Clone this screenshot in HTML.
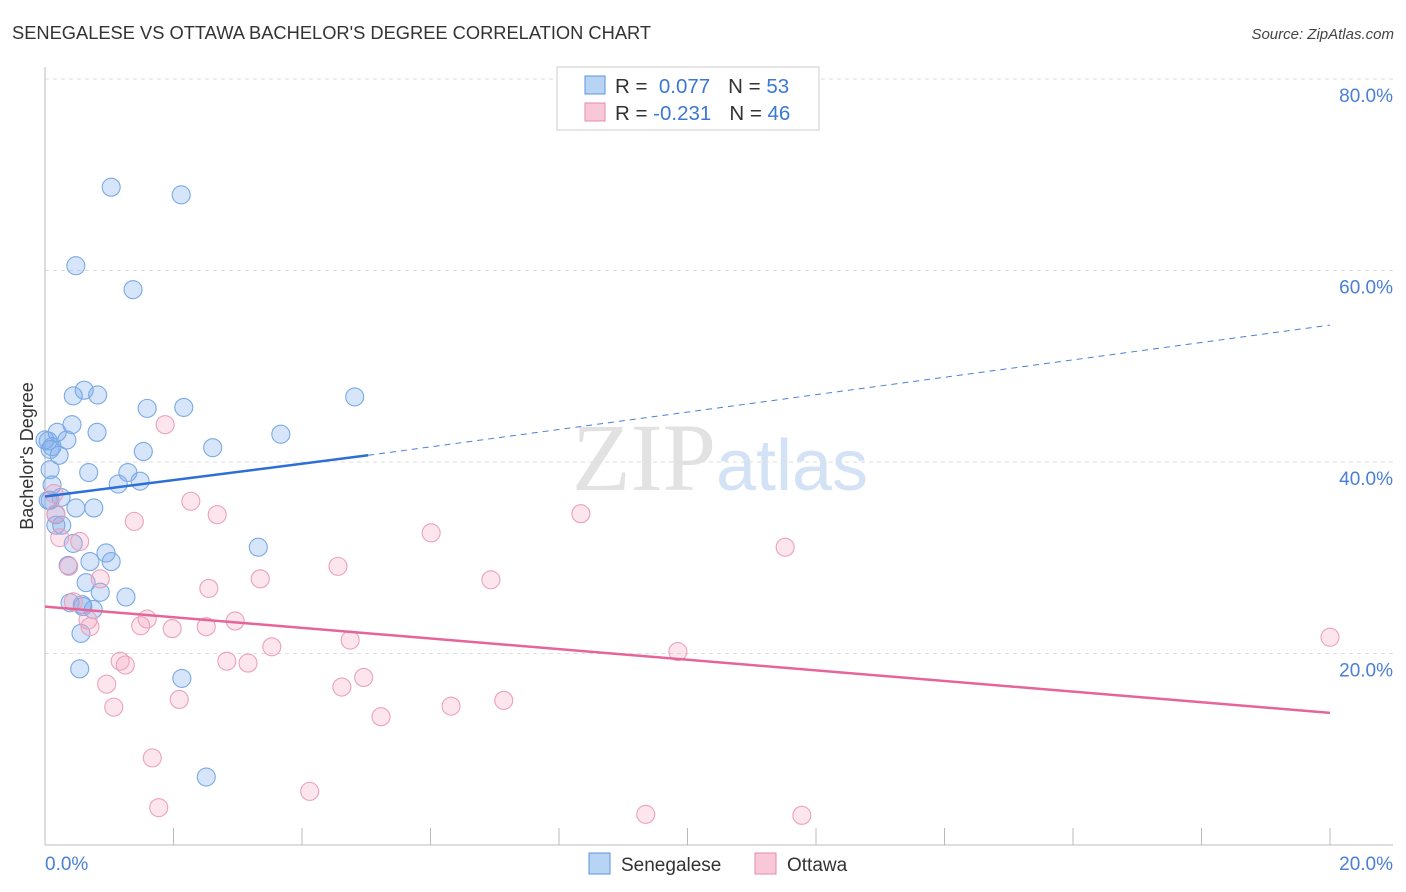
<!DOCTYPE html>
<html><head><meta charset="utf-8"><style>
body{margin:0;background:#fff;font-family:"Liberation Sans",sans-serif;}
</style></head><body>
<svg id="c" width="1406" height="892" xmlns="http://www.w3.org/2000/svg" style="display:block">
<text x="12" y="39" font-size="18.3" fill="#333" font-family="Liberation Sans">SENEGALESE VS OTTAWA BACHELOR'S DEGREE CORRELATION CHART</text>
<text x="1394" y="39" font-size="15" fill="#444" text-anchor="end" font-style="italic">Source: ZipAtlas.com</text>
<text x="720" y="490" font-size="96" text-anchor="middle" fill="#e2e2e2" font-family="Liberation Serif">ZIP<tspan fill="#d3e2f4" font-family="Liberation Sans" font-size="72">atlas</tspan></text>
<text transform="translate(33,456) rotate(-90)" font-size="18" fill="#333" text-anchor="middle">Bachelor's Degree</text>
<g id="grid"></g><g id="axes"></g><g id="pts"></g><g id="lines"></g>
<g>
<rect x="557" y="67" width="262" height="63" fill="#fff" stroke="#ccc"/>
<rect x="585" y="76" width="20" height="18" fill="#b8d4f5" stroke="#5b93d9"/>
<rect x="585" y="103" width="20" height="18" fill="#f9c8d8" stroke="#e58aa9"/>
<text x="615" y="93" font-size="20.5" fill="#333">R = <tspan fill="#3a78d6">&#160;0.077</tspan><tspan dx="18">N = </tspan><tspan fill="#3a78d6">53</tspan></text>
<text x="615" y="120" font-size="20.5" fill="#333">R = <tspan fill="#3a78d6">-0.231</tspan><tspan dx="18">N = </tspan><tspan fill="#3a78d6">46</tspan></text>
</g>
<g>
<rect x="589" y="853" width="21" height="21" fill="#b8d4f5" stroke="#5b93d9"/>
<text x="621" y="871" font-size="19" fill="#333">Senegalese</text>
<rect x="755" y="853" width="21" height="21" fill="#f9c8d8" stroke="#e58aa9"/>
<text x="787" y="871" font-size="19" fill="#333">Ottawa</text>
</g>
</svg>
<script>
const blueX=[1.03,2.12,0.48,1.37,0.61,0.82,0.44,1.59,2.16,4.82,0.42,0.19,0.81,0.34,0.05,0.11,3.67,2.61,0.22,1.53,0.68,1.29,0.08,1.14,1.48,0.11,0.25,0.08,0.48,0.76,0.26,0.17,0.44,3.32,0.95,0.70,1.03,0.36,0.64,0.86,1.26,0.39,0.59,0.75,0.56,0.54,2.13,2.51,0.0,0.08,0.05,0.17,0.58];
const blueY=[68.7,67.9,60.5,58.0,47.5,47.0,46.9,45.6,45.7,46.8,43.9,43.1,43.1,42.3,42.2,41.6,42.9,41.5,40.7,41.1,38.9,38.9,39.2,37.7,38.0,37.6,36.3,36.0,35.2,35.2,33.4,33.4,31.5,31.1,30.5,29.6,29.6,29.2,27.4,26.4,25.9,25.3,24.9,24.6,22.1,18.4,17.4,7.1,42.3,41.3,36.0,34.5,25.1];
const pinkX=[1.87,2.27,0.14,0.17,1.39,2.68,6.01,8.34,11.52,0.23,0.54,0.37,0.86,3.35,4.56,6.94,2.55,0.44,1.59,2.96,1.49,1.98,2.51,0.70,4.75,3.53,9.85,20.0,1.17,1.25,2.83,3.16,4.96,4.62,0.96,2.09,7.14,1.07,6.32,5.23,1.67,4.12,1.77,9.35,11.78,0.67];
const pinkY=[43.9,35.9,36.7,34.6,33.8,34.5,32.6,34.6,31.1,32.1,31.7,29.1,27.8,27.8,29.1,27.7,26.8,25.4,23.6,23.4,22.9,22.6,22.8,22.8,21.4,20.7,20.2,21.7,19.2,18.8,19.2,19.0,17.5,16.5,16.8,15.2,15.1,14.4,14.5,13.4,9.1,5.6,3.9,3.2,3.1,23.5];
const yTicks=[20,40,60,80];
const yTickLabels=["20.0%","40.0%","60.0%","80.0%"];
const blueTrend=[[0,36.4],[5.03,40.7],[20,54.3]];
const pinkTrend=[[0,24.9],[20,13.8]];
const NS="http://www.w3.org/2000/svg";
const sx=v=>45+v*64.25, sy=v=>845-v*9.575;
function mk(tag,attrs,parent){const e=document.createElementNS(NS,tag);for(const k in attrs)e.setAttribute(k,attrs[k]);document.getElementById(parent).appendChild(e);return e;}
yTicks.forEach((t,i)=>{
 const g=mk('line',{x1:45,x2:1393,y1:sy(t),y2:sy(t),stroke:'#ddd','stroke-dasharray':'4,4'},'grid');
 
 
 const l=mk('text',{x:1393,y:sy(t)+23,'font-size':19,fill:'#4a7fd4','text-anchor':'end'},'grid');
 l.textContent=yTickLabels[i];
 
 
});
mk('line',{x1:45,x2:45,y1:67,y2:845,stroke:'#bbb'},'axes');
mk('line',{x1:45,x2:1393,y1:845,y2:845,stroke:'#bbb'},'axes');
for(let v=2;v<=20;v+=2){const t=mk('line',{x1:sx(v),x2:sx(v),y1:828,y2:845,stroke:'#bbb'},'axes');}
const x0=mk('text',{x:45,y:870,'font-size':19,fill:'#4a7fd4'},'axes');x0.textContent='0.0%';


const x1=mk('text',{x:1393,y:870,'font-size':19,fill:'#4a7fd4','text-anchor':'end'},'axes');x1.textContent='20.0%';


function pts(X,Y,fill,stroke,name){X.forEach((x,i)=>{const c=mk('circle',{cx:sx(x),cy:sy(Y[i]),r:9,fill:fill,stroke:stroke,'stroke-width':1.1},'pts');
 
 });}
pts(blueX,blueY,'rgba(120,170,235,0.3)','#7aa9e4','senegalese-point');
pts(pinkX,pinkY,'rgba(245,160,190,0.28)','#eba1bb','ottawa-point');
const b1=mk('line',{x1:sx(blueTrend[0][0]),y1:sy(blueTrend[0][1]),x2:sx(blueTrend[1][0]),y2:sy(blueTrend[1][1]),stroke:'#2d6fd6','stroke-width':2.5},'lines');


const b2=mk('line',{x1:sx(blueTrend[1][0]),y1:sy(blueTrend[1][1]),x2:sx(blueTrend[2][0]),y2:sy(blueTrend[2][1]),stroke:'#4a80d8','stroke-width':1,'stroke-dasharray':'6,5'},'lines');


const p1=mk('line',{x1:sx(pinkTrend[0][0]),y1:sy(pinkTrend[0][1]),x2:sx(pinkTrend[1][0]),y2:sy(pinkTrend[1][1]),stroke:'#e5659a','stroke-width':2.5},'lines');


</script>
</body></html>
